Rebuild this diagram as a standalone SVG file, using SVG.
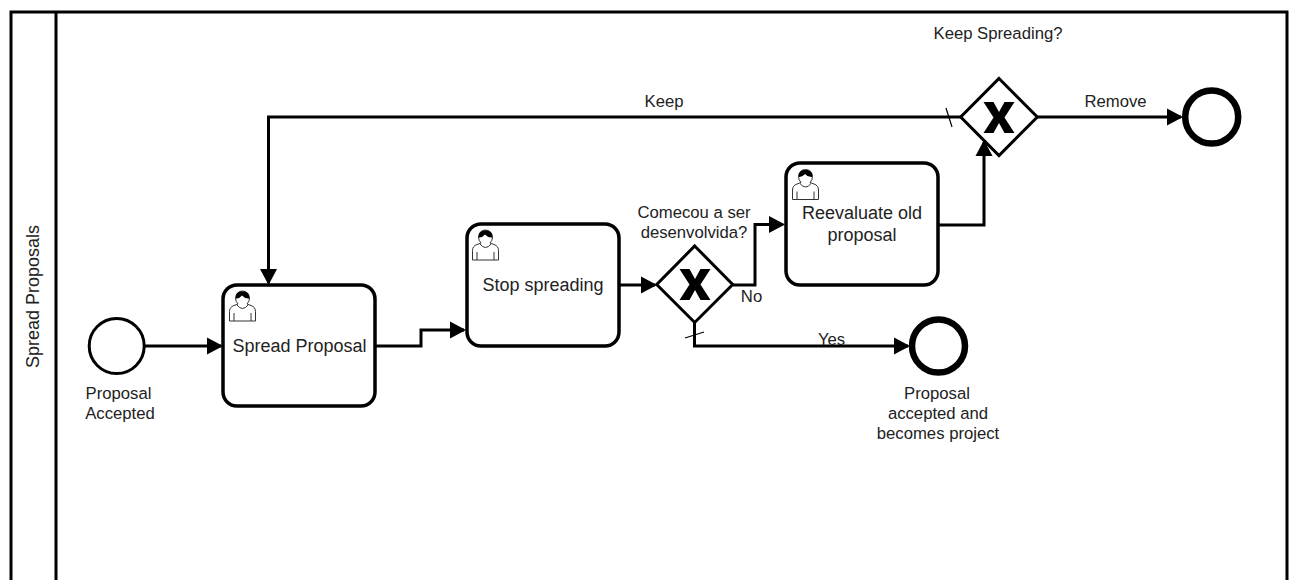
<svg xmlns="http://www.w3.org/2000/svg" width="1289" height="580" viewBox="0 0 1289 580">
<defs><marker id="a" markerUnits="userSpaceOnUse" markerWidth="20" markerHeight="18" refX="15" refY="9" orient="auto"><path d="M1 .5L17 9L1 17.5Z" fill="#000"/></marker>
<g id="u"><path d="M.5 30V20.5Q.5 16 5 14.5L9 13Q6.500 10.500 6.500 7A7 7 0 0 1 20.500 7Q20.500 10.500 18 13L22 14.500Q26.500 16 26.500 20.500V30Z" fill="#fff" stroke="#333" stroke-width="1"/><path d="M6.800 7.500Q10 8 13 4.500Q16 8 20.300 7.500Q20.800 .3 13.500 .3Q6.200 .3 6.800 7.500Z" fill="#000"/><path d="M5 30V22M22 30V22M8 14Q13.500 21 19 14" stroke="#333" stroke-width="1" fill="none"/></g>
<path id="x" d="M-15.500 -15.500H-5.500L0 -5.500L5.500 -15.500H15.500L5.500 0L15.500 15.500H5.500L0 5.500L-5.500 15.500H-15.500L-5.500 0Z" fill="#000"/></defs>
<style>text{font-family:"Liberation Sans",Arial,sans-serif;font-size:16.700px;fill:#222;text-anchor:middle}.t{font-size:18px}.s{fill:#fff;stroke:#000;stroke-width:3.500}.g{fill:#fff;stroke:#000;stroke-width:3}.c{fill:none;stroke:#000;stroke-width:3;marker-end:url(#a)}.l{fill:none;stroke:#000;stroke-width:1.200}.e{fill:#fff;stroke:#000;stroke-width:6.500}</style>
<rect width="1289" height="580" fill="#fff"/>
<g id="pool" fill="none" stroke="#000" stroke-width="3"><path d="M11 580V12H1287V580M56 12V580"/></g>
<text class="t" transform="translate(39 296.500) rotate(-90)">Spread Proposals</text>
<g id="start"><circle cx="116.700" cy="346" r="27.500" fill="#fff" stroke="#000" stroke-width="3"/><text x="118.500" y="399">Proposal</text><text x="120" y="419">Accepted</text></g>
<g id="spread"><rect class="s" x="223" y="285" width="152" height="121" rx="14"/><use href="#u" x="229" y="291"/><text class="t" x="299.500" y="352">Spread Proposal</text></g>
<g id="stop"><rect class="s" x="467" y="224" width="152" height="122" rx="14"/><use href="#u" x="472" y="230"/><text class="t" x="543" y="291">Stop spreading</text></g>
<g id="gw1"><path class="g" d="M694.700 246L732.700 284.500L694.700 322.500L656.700 284.500Z"/><use href="#x" x="695" y="284.500"/><text x="694" y="218">Comecou a ser</text><text x="694" y="238">desenvolvida?</text></g>
<g id="reeval"><rect class="s" x="786" y="163" width="152" height="122" rx="14"/><use href="#u" x="792" y="169.500"/><text class="t" x="862" y="219">Reevaluate old</text><text class="t" x="862" y="241">proposal</text></g>
<g id="gw2"><path class="g" d="M999 78.500L1037.300 117L999 155.500L960.700 117Z"/><use href="#x" x="999" y="117.500"/><text x="998" y="39">Keep Spreading?</text></g>
<g id="end1"><circle class="e" cx="938.500" cy="346" r="26.500"/><text x="937" y="399">Proposal</text><text x="938" y="419">accepted and</text><text x="938" y="439">becomes project</text></g>
<g id="end2"><circle class="e" cx="1211.700" cy="117" r="26.500"/></g>
<g id="connectors">
<path class="c" d="M145 346H221"/><path class="c" d="M376 346H421V330H464"/><path class="c" d="M620 285H655"/><path class="c" d="M733 285H755V224.500H783"/><path class="c" d="M939 225H984V142"/><path class="c" d="M694.500 323V346H908"/><path class="c" d="M961 117H268.500V283"/><path class="c" d="M1037 117H1181"/>
<path class="l" d="M685 338L704 332M946 108L952 127"/>
</g>
<g id="labels"><text x="664" y="107">Keep</text><text x="1115.500" y="107">Remove</text><text x="751.500" y="302">No</text><text x="831.500" y="345">Yes</text></g>
</svg>
